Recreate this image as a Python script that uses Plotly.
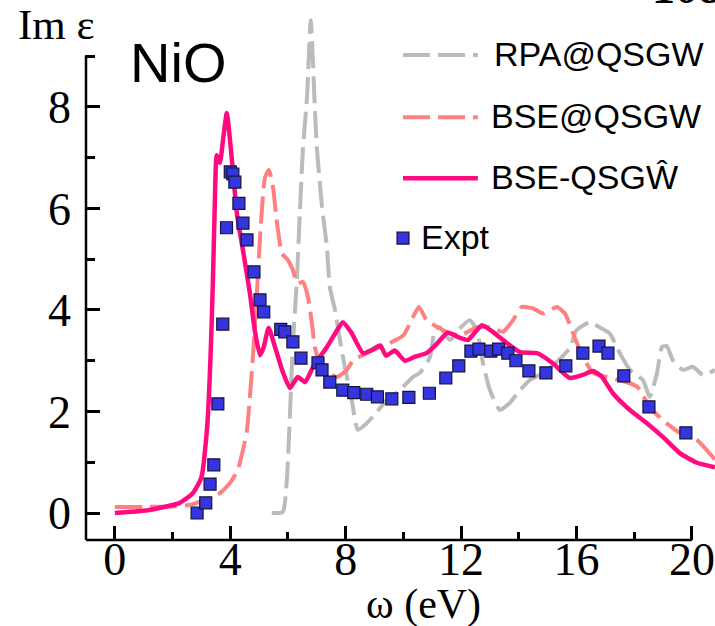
import plotly.graph_objects as go

# ---------------- data ----------------
expt_x = [2.85, 3.15, 3.3, 3.43, 3.57, 3.74, 3.87, 4.0, 4.09, 4.16, 4.3, 4.44, 4.58, 4.82, 5.03, 5.16,
          5.75, 5.89, 6.17, 6.45, 7.04, 7.18, 7.45, 7.9, 8.28, 8.73, 9.1, 9.6, 10.19, 10.9, 11.47,
          11.92, 12.34, 12.62, 13.03, 13.3, 13.62, 13.9, 14.35, 14.94, 15.63, 16.22, 16.78, 17.09,
          17.64, 18.51, 19.79]
expt_y = [0.0, 0.2, 0.57, 0.95, 2.15, 3.72, 5.62, 6.72, 6.68, 6.52, 6.1, 5.71, 5.38, 4.75, 4.2, 3.96,
          3.62, 3.57, 3.37, 3.05, 2.96, 2.82, 2.58, 2.42, 2.37, 2.34, 2.29, 2.25, 2.28, 2.36, 2.66,
          2.9, 3.19, 3.23, 3.19, 3.23, 3.15, 3.0, 2.8, 2.76, 2.9, 3.15, 3.29, 3.15,
          2.7, 2.09, 1.58]

bse_hat_x = [0, 1.2, 2.25, 2.7, 3.0, 3.19, 3.26, 3.33, 3.4, 3.46, 3.53, 3.64, 3.76, 3.88, 4.05, 4.23,
             4.44, 4.68, 4.85, 5.03, 5.16, 5.33, 5.55, 5.82, 6.07, 6.34, 6.59, 6.87, 7.35, 7.7, 7.9,
             8.2, 8.6, 8.9, 9.2, 9.4, 9.7, 10.05, 10.4, 10.8, 11.1, 11.54, 11.96, 12.24, 12.72, 13.1,
             13.58, 14.04, 14.63, 15.18, 15.77, 16.22, 16.57, 16.88, 17.26, 17.85, 18.44, 18.99,
             19.58, 20.17, 20.8]
bse_hat_y = [0.0, 0.06, 0.2, 0.39, 0.7, 1.63, 2.3, 3.3, 4.6, 6.0, 7.05, 6.9, 7.4, 7.88, 7.0, 5.9,
             5.18, 4.33, 3.6, 3.11, 3.27, 3.65, 3.27, 2.78, 2.46, 2.68, 2.58, 2.88, 3.27, 3.6, 3.76,
             3.55, 3.15, 3.21, 3.3, 3.1, 3.2, 3.0, 3.08, 3.15, 3.3, 3.55, 3.45, 3.41, 3.7, 3.57,
             3.35, 3.17, 3.15, 2.95, 2.66, 2.72, 2.8, 2.68, 2.36, 2.03, 1.77, 1.5,
             1.18, 0.99, 0.9]

bse_x = [0, 1.0, 2.0, 2.6, 3.12, 3.64, 3.99, 4.26, 4.44, 4.58, 4.68, 4.8, 4.92, 5.05, 5.2, 5.34,
         5.48, 5.62, 5.79, 6.0, 6.17, 6.31, 6.52, 6.69, 6.83, 6.93, 7.1, 7.35, 7.7, 8.04, 8.25,
         8.73, 9.19, 9.53, 10.0, 10.33, 10.54, 10.8, 11.16, 11.5, 11.96, 12.55, 13.0, 13.45,
         13.8, 14.1, 14.5, 14.84, 15.32, 15.6, 15.88, 16.22, 16.57, 17.05, 17.5, 18.1, 18.54,
         18.99, 19.58, 20.17, 20.8]
bse_y = [0.12, 0.12, 0.13, 0.16, 0.26, 0.39, 0.59, 0.85, 1.24, 1.63, 2.29, 3.2, 4.3, 5.6, 6.6, 6.76,
         6.42, 5.71, 5.12, 4.98, 4.79, 4.53, 4.55, 4.26, 3.74, 3.27, 2.96, 2.76, 2.68, 2.82, 3.0,
         3.15, 3.27, 3.35, 3.5, 3.86, 4.06, 3.8, 3.67, 3.57, 3.5, 3.66, 3.66, 3.57,
         3.8, 4.06, 4.03, 3.93, 4.06, 3.93, 3.54, 3.08, 2.76, 2.68, 2.62, 2.49, 2.09,
         1.83, 1.58, 1.44, 1.05]

rpa_x = [5.44, 5.82, 5.96, 6.07, 6.14, 6.2, 6.31, 6.41, 6.52, 6.66, 6.79, 6.93, 7.0, 7.18, 7.35,
         7.45, 7.63, 7.8, 7.97, 8.21, 8.42, 8.73, 9.08, 9.43, 9.88, 10.33, 10.57, 10.92, 11.09,
         11.26, 11.61, 11.96, 12.3, 12.55, 12.76, 13.0, 13.34, 13.69, 14.04, 14.38, 14.84, 15.32,
         15.77, 16.0, 16.46, 16.8, 17.15, 17.5, 17.85, 18.3, 18.54, 18.79, 18.96, 19.13, 19.34,
         19.69, 20.03, 20.38, 20.8]
rpa_y = [0.0, 0.02, 0.65, 1.97, 2.96, 3.6, 4.6, 5.9, 7.2, 8.2, 9.71, 8.0, 7.2, 6.03, 5.24,
         4.45, 4.0, 3.41, 2.88, 2.23, 1.64, 1.77, 1.99, 2.23, 2.42, 2.68, 2.76, 3.07, 3.6,
         3.66, 3.41, 3.64, 3.8, 3.6, 2.95, 2.42, 2.03, 2.17, 2.42, 2.62, 2.76, 2.98,
         3.25, 3.6, 3.76, 3.66, 3.54, 3.15, 2.82, 2.62, 2.29, 2.76, 3.27, 3.29, 3.01,
         2.82, 2.88, 2.72, 2.82]

x_major = [0, 4, 8, 12, 16, 20]
x_minor = [2, 6, 10, 14, 18]
y_major = [0, 2, 4, 6, 8]
y_minor = [1, 3, 5, 7, 9]

legend_names = ["RPA@QSGW", "BSE@QSGW", "BSE-QSGŴ", "Expt"]

# ---------------- style ----------------
C_RPA = "#BBBBBB"
C_BSE = "#FF8080"
C_HAT = "#FF0A80"
C_EXP = "#3535E0"
DASH = "27px,8px"
SERIF = "Liberation Serif"
SANS = "Liberation Sans"

XR = [-1, 20.8]
YR = [-0.532, 10.108]

fig = go.Figure()
fig.add_trace(go.Scatter(x=rpa_x, y=rpa_y, mode="lines",
                         line=dict(color=C_RPA, width=4, dash=DASH, shape="spline", smoothing=0.5)))
fig.add_trace(go.Scatter(x=bse_x, y=bse_y, mode="lines",
                         line=dict(color=C_BSE, width=4, dash=DASH, shape="spline", smoothing=0.5)))
fig.add_trace(go.Scatter(x=bse_hat_x, y=bse_hat_y, mode="lines",
                         line=dict(color=C_HAT, width=4.5, shape="spline", smoothing=0.5)))
fig.add_trace(go.Scatter(x=expt_x, y=expt_y, mode="markers",
                         marker=dict(symbol="square", size=12, color=C_EXP,
                                     line=dict(color="#15153a", width=1.2))))

def px(v):  # data x -> paper x
    return (v - XR[0]) / (XR[1] - XR[0])

def py(v):  # data y -> paper y
    return (v - YR[0]) / (YR[1] - YR[0])

shapes = [
    dict(type="line", xref="paper", yref="paper", x0=0, x1=px(20), y0=0, y1=0,
         line=dict(color="black", width=2.5)),
    dict(type="line", xref="paper", yref="paper", x0=0, x1=0, y0=0, y1=py(9.02),
         line=dict(color="black", width=2.5)),
]

# manual legend
leg_x0, leg_x1 = 0.504, 0.623
leg_rows = [0.898, 0.783, 0.670]
leg_styles = [(C_RPA, DASH, 4), (C_BSE, DASH, 4), (C_HAT, "solid", 4.5)]
annotations = []
for (c, d, w), yy, name, tx in zip(leg_styles, leg_rows, legend_names[:3], [0.645, 0.640, 0.640]):
    shapes.append(dict(type="line", xref="paper", yref="paper", x0=leg_x0, x1=leg_x1, y0=yy, y1=yy,
                       line=dict(color=c, width=w, dash=d)))
    annotations.append(dict(xref="paper", yref="paper", x=tx, y=yy + 0.002, text=name, showarrow=False,
                            xanchor="left", yanchor="middle", font=dict(family=SANS, size=34, color="black")))
# Expt key
shapes.append(dict(type="rect", xref="paper", yref="paper", x0=0.4945, x1=0.5135, y0=0.548, y1=0.570,
                   fillcolor=C_EXP, line=dict(color="#15153a", width=1.2)))
annotations.append(dict(xref="paper", yref="paper", x=0.530, y=0.561, text=legend_names[3], showarrow=False,
                        xanchor="left", yanchor="middle", font=dict(family=SANS, size=34, color="black")))

annotations += [
    dict(xref="paper", yref="paper", x=0.146, y=0.885, text="NiO", showarrow=False,
         xanchor="center", yanchor="middle", font=dict(family=SANS, size=56, color="black")),
    dict(xref="paper", yref="paper", x=-0.112, y=0.955, text="Im ε", showarrow=False,
         xanchor="left", yanchor="middle", font=dict(family=SERIF, size=43, color="black")),
    dict(xref="paper", yref="paper", x=0.537, y=-0.12, text="ω (eV)", showarrow=False,
         xanchor="center", yanchor="middle", font=dict(family=SERIF, size=42, color="black")),
    dict(xref="paper", yref="paper", x=0.955, y=0.972, text="<b>108</b>", showarrow=False,
         xanchor="center", yanchor="bottom", font=dict(family=SERIF, size=46, color="black")),
]

fig.update_layout(
    width=715, height=626,
    margin=dict(l=86, r=0, t=0, b=86),
    paper_bgcolor="white", plot_bgcolor="white",
    showlegend=False,
    shapes=shapes, annotations=annotations,
    xaxis=dict(range=XR, showgrid=False, zeroline=False, showline=False,
               tickmode="array", tickvals=x_major, ticktext=[str(v) for v in x_major],
               ticks="inside", ticklen=14, tickwidth=2.5, tickcolor="black",
               ticklabelstandoff=-12,
               tickfont=dict(family=SERIF, size=46, color="black"),
               minor=dict(tickvals=x_minor, ticks="inside", ticklen=8, tickwidth=2.5, tickcolor="black")),
    yaxis=dict(range=YR, showgrid=False, zeroline=False, showline=False,
               tickmode="array", tickvals=y_major, ticktext=[str(v) for v in y_major],
               ticks="inside", ticklen=14, tickwidth=2.5, tickcolor="black",
               ticklabelstandoff=14,
               tickfont=dict(family=SERIF, size=46, color="black"),
               minor=dict(tickvals=y_minor, ticks="inside", ticklen=9, tickwidth=2.5, tickcolor="black")),
)

fig.write_html("out.html")
